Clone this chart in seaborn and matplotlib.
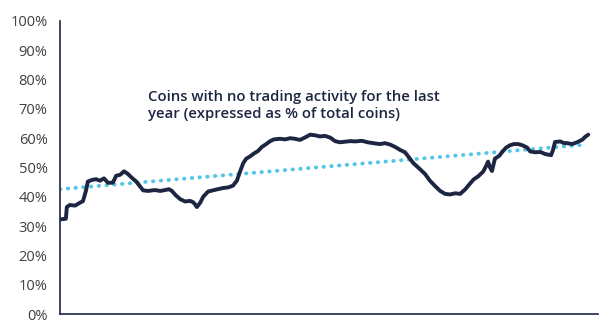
import matplotlib
matplotlib.use("Agg")
import matplotlib.pyplot as plt
import seaborn as sns
import numpy as np

# weeks since start (tick every 13 weeks) and % of coins dormant >1y
weeks = [0, 1.2, 1.4, 2.0, 3.1, 4.1, 4.7, 5.3, 5.7, 6.6, 7.4, 8.2, 9.0, 9.8, 10.8,
         11.5, 12.3, 13.1, 13.9, 14.7, 15.6, 16.4, 17.0, 18.0, 19.4, 20.5, 21.5,
         22.3, 22.9, 23.7, 24.6, 25.6, 26.6, 27.2, 27.6, 28.0, 28.7, 29.3, 30.3,
         31.3, 32.3, 33.4, 34.4, 35.4, 36.2, 36.8, 37.5, 38.1, 38.9, 39.7, 40.5,
         41.3, 42.2, 43.0, 43.8, 45.0, 46.1, 47.1, 48.1, 49.1, 50.2, 51.2, 52.2,
         53.2, 54.2, 55.3, 56.3, 57.3, 58.3, 59.4, 60.4, 61.8, 63.0, 64.5, 65.5,
         66.5, 67.6, 68.6, 69.6, 70.6, 71.4, 72.3, 73.3, 74.7, 75.7, 76.8, 77.8,
         78.8, 79.8, 80.9, 81.9, 82.9, 83.9, 84.7, 85.6, 86.6, 87.2, 87.6, 88.0,
         88.4, 89.0, 89.9, 90.5, 91.3, 92.1, 92.9, 93.8, 94.6, 95.6, 96.2, 97.2,
         98.3, 99.3, 100.5, 100.9, 101.3, 102.4, 103.0, 103.8, 104.8, 105.8,
         106.9, 107.5, 108.1]
dormant_pct = [32.3, 32.5, 36.5, 37.2, 37.0, 38.0, 38.5, 42.0, 45.2, 45.8, 46.0,
               45.5, 46.3, 44.8, 44.8, 47.2, 47.5, 48.7, 47.8, 46.5, 45.2, 43.5,
               42.2, 42.0, 42.3, 42.0, 42.3, 42.6, 42.0, 40.5, 39.2, 38.4, 38.6,
               38.2, 37.5, 36.5, 38.0, 40.0, 41.8, 42.2, 42.6, 43.0, 43.2, 43.8,
               45.5, 48.4, 51.5, 53.0, 53.8, 54.8, 55.6, 57.0, 58.0, 59.0, 59.6,
               59.8, 59.6, 60.0, 59.8, 59.4, 60.3, 61.2, 61.0, 60.6, 60.8, 60.2,
               59.0, 58.6, 58.8, 59.0, 58.9, 59.1, 58.6, 58.2, 58.0, 58.3, 57.8,
               57.0, 56.0, 55.2, 53.5, 51.5, 50.0, 47.8, 45.5, 43.6, 42.0, 41.0,
               40.8, 41.2, 41.0, 42.5, 44.5, 46.0, 47.0, 48.6, 50.5, 52.0, 50.0,
               48.8, 53.0, 54.0, 55.3, 56.8, 57.6, 58.0, 58.0, 57.6, 56.8, 55.5,
               55.2, 55.3, 54.6, 54.2, 56.0, 58.7, 58.9, 58.4, 58.3, 58.0, 58.6,
               59.5, 60.5, 61.2]
trend_weeks = [0, 107.5]
trend_pct = [42.6, 57.8]
y_ticks = [0, 10, 20, 30, 40, 50, 60, 70, 80, 90, 100]
x_ticks = [0, 13, 26, 39, 52, 65, 78, 91, 104]
label_text = "Coins with no trading activity for the last\nyear (expressed as % of total coins)"

n = min(len(weeks), len(dormant_pct))
weeks = weeks[:n]
dormant_pct = dormant_pct[:n]

sns.set_style("white")
plt.rcParams['font.family'] = ['Open Sans', 'DejaVu Sans']

navy = "#1c2541"
fig = plt.figure(figsize=(6.02, 3.22), dpi=100)
ax = fig.add_axes([60/602, 1-314/322, 538/602, 293/322])

sns.lineplot(x=trend_weeks, y=trend_pct, ax=ax, color="#52c5e8", lw=2.8,
             dashes=False, estimator=None)
trend_line = ax.lines[-1]
trend_line.set_linestyle((0, (0.1, 1.9)))
trend_line.set_dash_capstyle("round")

sns.lineplot(x=weeks, y=dormant_pct, ax=ax, color=navy, lw=2.8, estimator=None,
             sort=False)

ax.set_xlim(0, 110.1)
ax.set_ylim(0, 100)
ax.set_yticks(y_ticks)
ax.set_yticklabels([f"{v}%" for v in y_ticks], fontsize=10.5, color="#404040")
ax.set_xticks(x_ticks)
ax.set_xticklabels([])
ax.tick_params(axis="both", which="major", length=4, width=1.1, color=navy,
               direction="out", pad=4)
ax.tick_params(axis="y", pad=5)
for s in ["top", "right"]:
    ax.spines[s].set_visible(False)
for s in ["left", "bottom"]:
    ax.spines[s].set_color(navy)
    ax.spines[s].set_linewidth(1.2)
ax.set_xlabel("")
ax.set_ylabel("")

fig.text(148/602, 1-90/322, label_text, ha="left", va="top", fontsize=10.7,
         fontweight="semibold", color=navy, linespacing=1.25)

fig.savefig("out.png", dpi=100)
